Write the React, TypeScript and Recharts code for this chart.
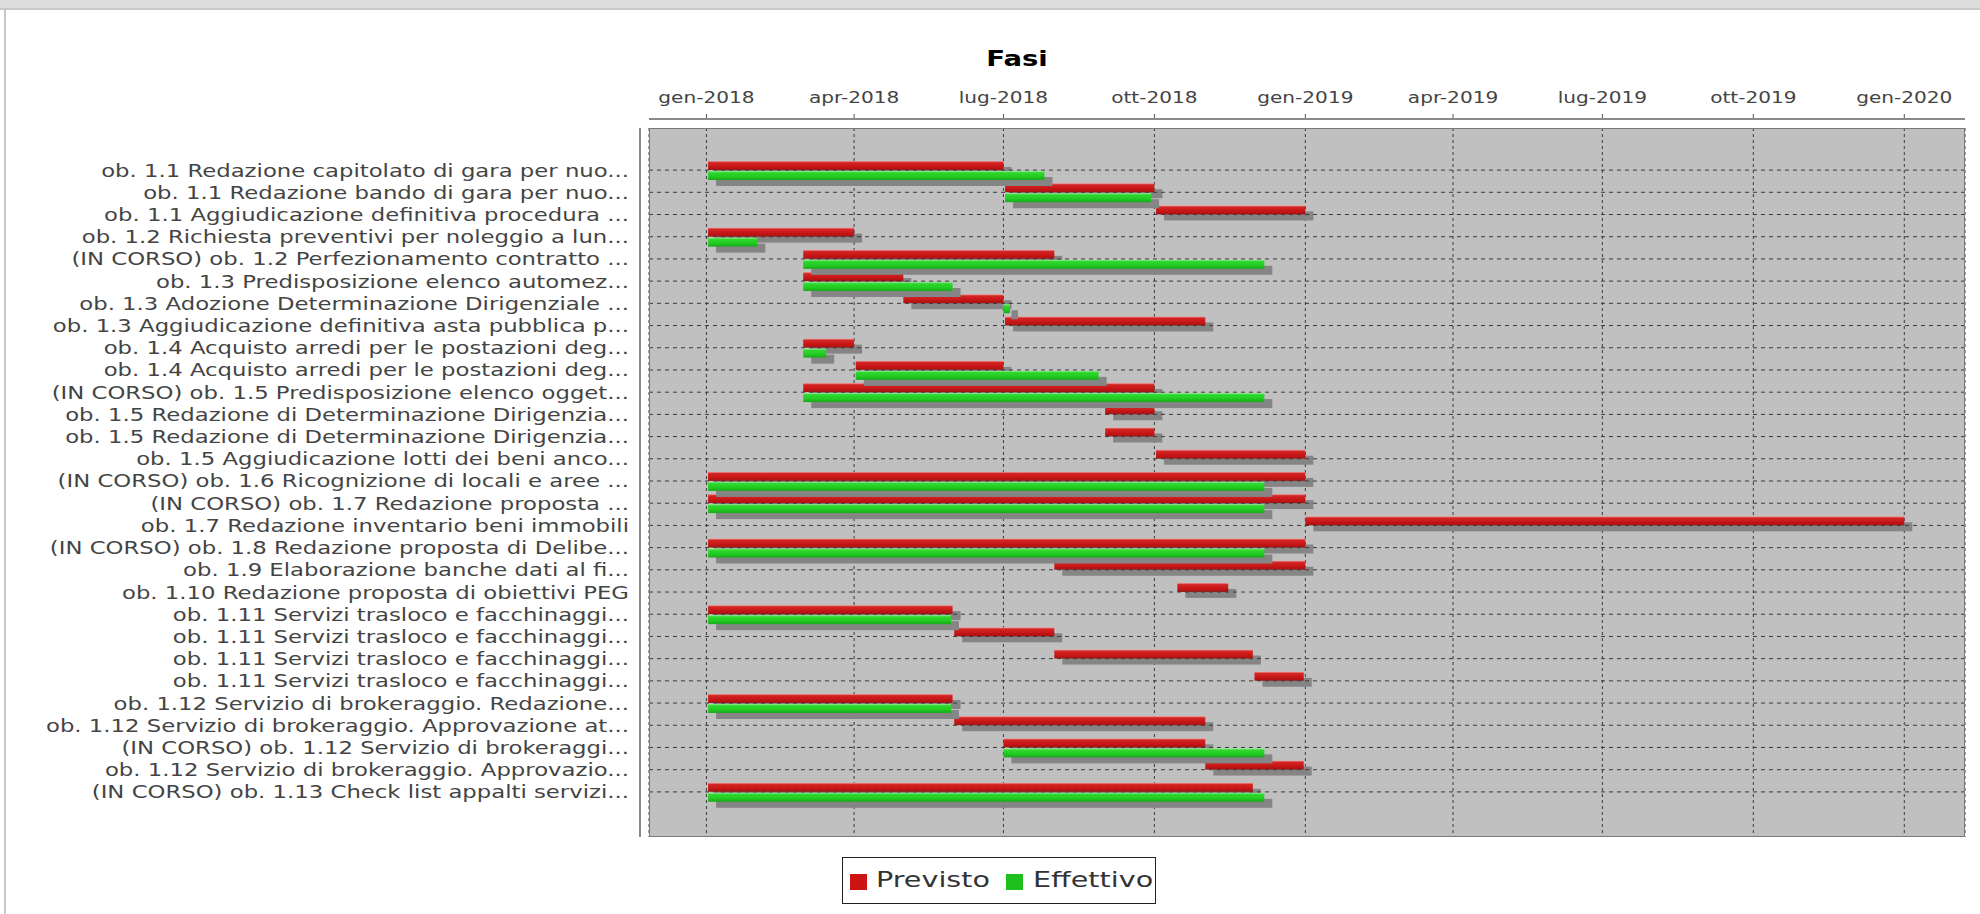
import React from "react";
import { BarChart, Bar, XAxis, YAxis, CartesianGrid, ReferenceLine } from "recharts";

const categories = [
  "ob. 1.1 Redazione capitolato di gara per nuo...",
  "ob. 1.1 Redazione bando di gara per nuo...",
  "ob. 1.1 Aggiudicazione definitiva procedura ...",
  "ob. 1.2 Richiesta preventivi per noleggio a lun...",
  "(IN CORSO) ob. 1.2 Perfezionamento contratto ...",
  "ob. 1.3 Predisposizione elenco automez...",
  "ob. 1.3 Adozione Determinazione Dirigenziale ...",
  "ob. 1.3 Aggiudicazione definitiva asta pubblica p...",
  "ob. 1.4 Acquisto arredi per le postazioni deg...",
  "ob. 1.4 Acquisto arredi per le postazioni deg...",
  "(IN CORSO) ob. 1.5 Predisposizione elenco ogget...",
  "ob. 1.5 Redazione di Determinazione Dirigenzia...",
  "ob. 1.5 Redazione di Determinazione Dirigenzia...",
  "ob. 1.5 Aggiudicazione lotti dei beni anco...",
  "(IN CORSO) ob. 1.6 Ricognizione di locali e aree ...",
  "(IN CORSO) ob. 1.7 Redazione proposta ...",
  "ob. 1.7 Redazione inventario beni immobili",
  "(IN CORSO) ob. 1.8 Redazione proposta di Delibe...",
  "ob. 1.9 Elaborazione banche dati al fi...",
  "ob. 1.10 Redazione proposta di obiettivi PEG",
  "ob. 1.11 Servizi trasloco e facchinaggi...",
  "ob. 1.11 Servizi trasloco e facchinaggi...",
  "ob. 1.11 Servizi trasloco e facchinaggi...",
  "ob. 1.11 Servizi trasloco e facchinaggi...",
  "ob. 1.12 Servizio di brokeraggio. Redazione...",
  "ob. 1.12 Servizio di brokeraggio. Approvazione at...",
  "(IN CORSO) ob. 1.12 Servizio di brokeraggi...",
  "ob. 1.12 Servizio di brokeraggio. Approvazio...",
  "(IN CORSO) ob. 1.13 Check list appalti servizi...",
];

// Previsto (planned)
const previstoStart = [
  "2018-01-02", "2018-07-02", "2018-10-02", "2018-01-02", "2018-03-01",
  "2018-03-01", "2018-05-01", "2018-07-02", "2018-03-01", "2018-04-02",
  "2018-03-01", "2018-09-01", "2018-09-01", "2018-10-02", "2018-01-02",
  "2018-01-02", "2019-01-01", "2018-01-02", "2018-08-01", "2018-10-15",
  "2018-01-02", "2018-06-01", "2018-08-01", "2018-12-01", "2018-01-02",
  "2018-06-01", "2018-07-01", "2018-11-01", "2018-01-02",
];
const previstoEnd = [
  "2018-07-01", "2018-10-01", "2019-01-01", "2018-04-01", "2018-08-01",
  "2018-05-01", "2018-07-01", "2018-11-01", "2018-04-01", "2018-07-01",
  "2018-10-01", "2018-10-01", "2018-10-01", "2019-01-01", "2019-01-01",
  "2019-01-01", "2020-01-01", "2019-01-01", "2019-01-01", "2018-11-15",
  "2018-05-31", "2018-08-01", "2018-11-30", "2018-12-31", "2018-05-31",
  "2018-11-01", "2018-11-01", "2018-12-31", "2018-11-30",
];

// Effettivo (actual), null where there is none
const effettivoStart = [
  "2018-01-02", "2018-07-02", null, "2018-01-02", "2018-03-01",
  "2018-03-01", "2018-07-01", null, "2018-03-01", "2018-04-02",
  "2018-03-01", null, null, null, "2018-01-02",
  "2018-01-02", null, "2018-01-02", null, null,
  "2018-01-02", null, null, null, "2018-01-02",
  null, "2018-07-01", null, "2018-01-02",
];
const effettivoEnd = [
  "2018-07-26", "2018-09-29", null, "2018-02-01", "2018-12-07",
  "2018-05-31", "2018-07-05", null, "2018-03-15", "2018-08-28",
  "2018-12-07", null, null, null, "2018-12-07",
  "2018-12-07", null, "2018-12-07", null, null,
  "2018-05-30", null, null, null, "2018-05-30",
  null, "2018-12-07", null, "2018-12-07",
];

const tickDates = [
  "2018-01-01", "2018-04-01", "2018-07-01", "2018-10-01", "2019-01-01",
  "2019-04-01", "2019-07-01", "2019-10-01", "2020-01-01",
];
const tickLabels = [
  "gen-2018", "apr-2018", "lug-2018", "ott-2018", "gen-2019",
  "apr-2019", "lug-2019", "ott-2019", "gen-2020",
];
const axisRange = ["2017-11-27", "2020-02-07"];

const toTime = (d: string) => new Date(d + "T00:00:00Z").getTime();

const tickTimes = tickDates.map(toTime);

const data = categories.map((name, i) => ({
  id: `r${i}`,
  name,
  previsto: [toTime(previstoStart[i]), toTime(previstoEnd[i])],
  effettivo:
    effettivoStart[i] && effettivoEnd[i]
      ? [toTime(effettivoStart[i] as string), toTime(effettivoEnd[i] as string)]
      : null,
}));

const FONT = "'DejaVu Sans', sans-serif";

const XTick = (props: any) => {
  const { x, y, payload } = props;
  const i = tickTimes.indexOf(payload.value);
  return (
    <g>
      <line x1={x} x2={x} y1={y - 14} y2={y - 9} stroke="#555" strokeWidth={1} />
      <text
        transform={`translate(${x},${y - 25}) scale(1.34,1)`}
        textAnchor="middle"
        fontSize={15}
        fontFamily={FONT}
        fill="#444"
      >
        {tickLabels[i]}
      </text>
    </g>
  );
};

const YTick = (props: any) => {
  const { x, y, payload } = props;
  const row = data.find((d) => d.id === payload.value);
  return (
    <text
      transform={`translate(${x - 20},${y}) scale(1.265,1)`}
      textAnchor="end"
      dy="0.36em"
      fontSize={18}
      fontFamily={FONT}
      fill="#444"
    >
      {row ? row.name : ""}
    </text>
  );
};

const ganttShape = (key: "previsto" | "effettivo", gradId: string) => (props: any) => {
  const { x, y, width, height, payload } = props;
  if (!payload || payload[key] == null || !(width > 0)) return <g />;
  return (
    <g>
      <rect x={x + 8} y={y + 6} width={width} height={height} fill="#858585" />
      <rect x={x} y={y} width={width} height={height} fill={`url(#${gradId})`} />
    </g>
  );
};

const prevShape = ganttShape("previsto", "gradPrev");
const effShape = ganttShape("effettivo", "gradEff");

const legendText: React.CSSProperties = {
  position: "absolute",
  top: 8,
  fontSize: 22,
  lineHeight: "28px",
  color: "#333",
  transform: `scaleX(1.3)`,
  transformOrigin: "left center",
  whiteSpace: "nowrap",
};

export default function App() {
  return (
    <div
      style={{
        position: "absolute",
        left: 0,
        top: 0,
        width: 1980,
        height: 914,
        background: "#fff",
        overflow: "hidden",
        fontFamily: FONT,
      }}
    >
      {/* page frame */}
      <div style={{ position: "absolute", left: 0, top: 0, width: 1980, height: 8, background: "#dddddd" }} />
      <div style={{ position: "absolute", left: 0, top: 8, width: 1980, height: 2, background: "#c8c8c8" }} />
      <div style={{ position: "absolute", left: 4, top: 8, width: 2, height: 906, background: "#c8c8c8" }} />

      {/* title */}
      <div
        style={{
          position: "absolute",
          left: 1017,
          top: 45,
          transform: `translateX(-50%) scaleX(1.25)`,
          fontSize: 22,
          fontWeight: "bold",
          color: "#000",
          lineHeight: "28px",
          whiteSpace: "nowrap",
        }}
      >
        Fasi
      </div>

      <div style={{ position: "absolute", left: 0, top: 0 }}>
        <BarChart
          width={1980}
          height={914}
          data={data}
          layout="vertical"
          barSize={9}
          barGap={1}
          margin={{ top: 88, right: 15, bottom: 77, left: 0 }}
        >
          <defs>
            <linearGradient id="gradPrev" x1="0" y1="0" x2="0" y2="1">
              <stop offset="0%" stopColor="#f0a0a0" />
              <stop offset="18%" stopColor="#d42626" />
              <stop offset="60%" stopColor="#c81616" />
              <stop offset="100%" stopColor="#a81212" />
            </linearGradient>
            <linearGradient id="gradEff" x1="0" y1="0" x2="0" y2="1">
              <stop offset="0%" stopColor="#a0eea0" />
              <stop offset="18%" stopColor="#30d830" />
              <stop offset="60%" stopColor="#22cc22" />
              <stop offset="100%" stopColor="#1aa81a" />
            </linearGradient>
          </defs>
          <CartesianGrid
            horizontal={false}
            fill="#c0c0c0"
            fillOpacity={1}
            stroke="#3a3a3a"
            strokeDasharray="3 3"
          />
          <XAxis
            type="number"
            orientation="top"
            domain={[toTime(axisRange[0]), toTime(axisRange[1])]}
            allowDataOverflow
            ticks={tickTimes}
            interval={0}
            tick={<XTick />}
            axisLine={false}
            tickLine={false}
            tickSize={0}
            tickMargin={0}
            height={40}
          />
          <YAxis
            type="category"
            dataKey="id"
            width={649}
            interval={0}
            tick={<YTick />}
            axisLine={false}
            tickLine={false}
            tickSize={0}
            tickMargin={0}
            padding={{ top: 31, bottom: 34 }}
          />
          {data.map((d) => (
            <ReferenceLine key={d.id} y={d.id} stroke="#3a3a3a" strokeDasharray="4 4" />
          ))}
          <Bar dataKey="previsto" name="Previsto" fill="#c81616" shape={prevShape} isAnimationActive={false} />
          <Bar dataKey="effettivo" name="Effettivo" fill="#22cc22" shape={effShape} isAnimationActive={false} />
        </BarChart>
      </div>

      {/* axis lines and plot outline */}
      <div style={{ position: "absolute", left: 649, top: 118, width: 1316, height: 2, background: "#8a8a8a" }} />
      <div style={{ position: "absolute", left: 639, top: 128, width: 2, height: 709, background: "#8a8a8a" }} />
      <div
        style={{
          position: "absolute",
          left: 649,
          top: 128,
          width: 1316,
          height: 709,
          border: "1px solid #7a7a7a",
          boxSizing: "border-box",
          pointerEvents: "none",
        }}
      />

      {/* legend */}
      <div
        style={{
          position: "absolute",
          left: 842,
          top: 857,
          width: 314,
          height: 47,
          border: "1px solid #222",
          boxSizing: "border-box",
          background: "#fff",
        }}
      >
        <div style={{ position: "absolute", left: 7, top: 16, width: 17, height: 16, background: "#cc1414" }} />
        <div style={{ ...legendText, left: 33 }}>Previsto</div>
        <div style={{ position: "absolute", left: 163, top: 16, width: 17, height: 16, background: "#1ec01e" }} />
        <div style={{ ...legendText, left: 190 }}>Effettivo</div>
      </div>
    </div>
  );
}
